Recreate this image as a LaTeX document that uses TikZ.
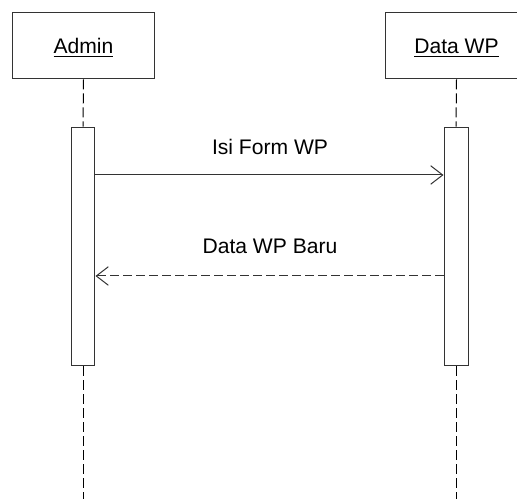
\documentclass[tikz,border=0pt]{standalone}
\usepackage{fontspec}
\setmainfont{Liberation Sans}
\usetikzlibrary{arrows.meta}

\begin{document}
\begin{tikzpicture}[
            x = .02cm, y = -.02cm,
            every node/.style={text depth=0pt, font=\fontsize{12}{14}\selectfont},
            actor/.style={rectangle, draw=black!80, fill=white, line width=.02cm, minimum width=2.86cm, minimum height=1.32cm},
            bar/.style={rectangle, draw=black!80, fill=white, line width=.02cm, minimum width=.48cm, minimum height=4.78cm},
            life/.style={line width=.02cm, dash pattern=on .2cm off .08cm},
            msg/.style={line width=.02cm, draw=black!80, -{Straight Barb[length=.24cm, width=.37cm]}},
            reply/.style={msg, dash pattern=on .18cm off .08cm},
            ]
        \useasboundingbox (0, 0) rectangle (517, 499);

        \node[actor] (admin) at (83.5, 46) {\underline{Admin}};
        \node[actor] (data) at (456.5, 46) {\underline{Data WP}};
        \coordinate (adminEnd) at (83, 499);
        \coordinate (dataEnd) at (456, 499);

        \node[bar] (actAdmin) at (83, 246.5) {};
        \node[bar] (actData) at (456, 246.5) {};

        \draw[life] (admin.south) -- (actAdmin.north);
        \draw[life] (actAdmin.south) -- (adminEnd);
        \draw[life] (data.south) -- (actData.north);
        \draw[life] (actData.south) -- (dataEnd);

        \coordinate (isi) at (0, 175);
        \coordinate (baru) at (0, 276);
        \draw[msg] (actAdmin.east |- isi) -- (actData.west |- isi);
        \draw[reply] (actData.west |- baru) -- (actAdmin.east |- baru);

        \node[anchor=base] (isiLabel) at (270, 155) {Isi Form WP};
        \node[anchor=base] (baruLabel) at (270, 254) {Data WP Baru};
    \end{tikzpicture}
\end{document}
